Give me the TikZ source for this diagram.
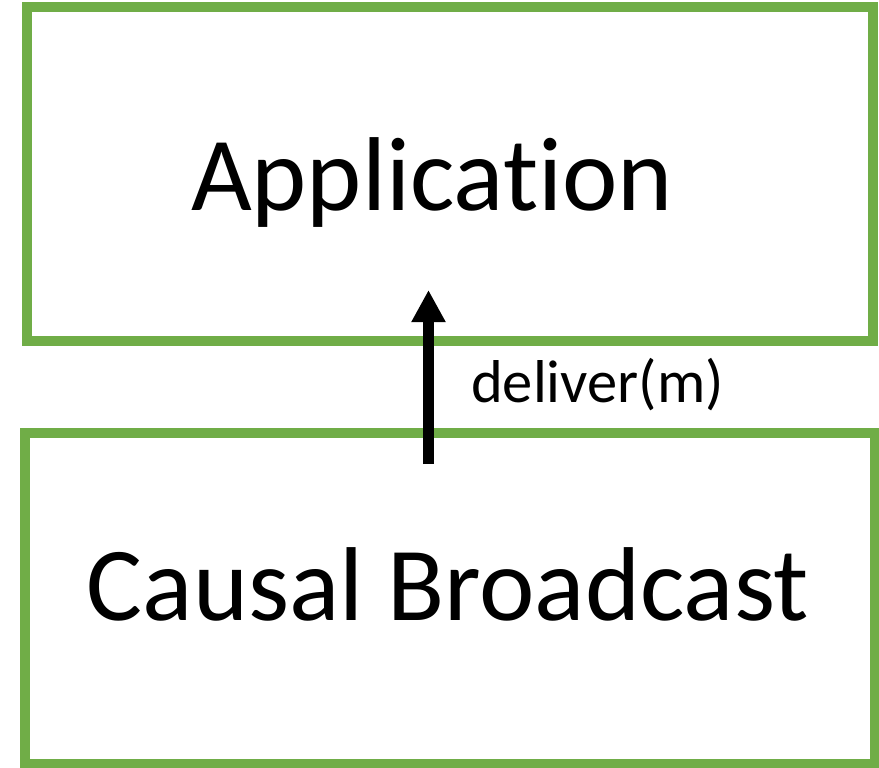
\documentclass[tikz,border=0pt]{standalone}
\usepackage{fontspec}
\setmainfont[Ligatures={NoCommon}]{Carlito}
\usetikzlibrary{arrows.meta}
\definecolor{boxgreen}{HTML}{70AD47}
\begin{document}
\begin{tikzpicture}[x=1pt,y=-1pt,
  layer/.style={draw=boxgreen,line width=10pt,inner sep=0pt,outer sep=0pt},
  bigtext/.style={font=\fontsize{105}{110}\selectfont,inner sep=0pt,anchor=base},
  smalltext/.style={font=\fontsize{60.5}{66}\selectfont,inner sep=0pt,anchor=base west},
  call/.style={line width=11pt,-{Triangle[width=32pt,length=32pt]}}]
\useasboundingbox (0,0) rectangle (879,768);
% layer boxes
\node[layer,minimum width=846pt,minimum height=333.5pt] (app) at (450,174.25) {};
\node[layer,minimum width=849.5pt,minimum height=331pt] (cb) at (449.75,432.5+165.5) {};
% layer names
\node[bigtext] (apptext) at (432,210) {Application};
\node[bigtext] (cbtext) at (448,620) {Causal Broadcast};
% delivery call from the broadcast layer up to the application
\coordinate (callstart) at (428.5,464);
\coordinate (callend) at (428.5,290);
\draw[call] (callstart) -- (callend);
\node[smalltext] (calllabel) at (471,402) {deliver(m)};
\end{tikzpicture}
\end{document}
